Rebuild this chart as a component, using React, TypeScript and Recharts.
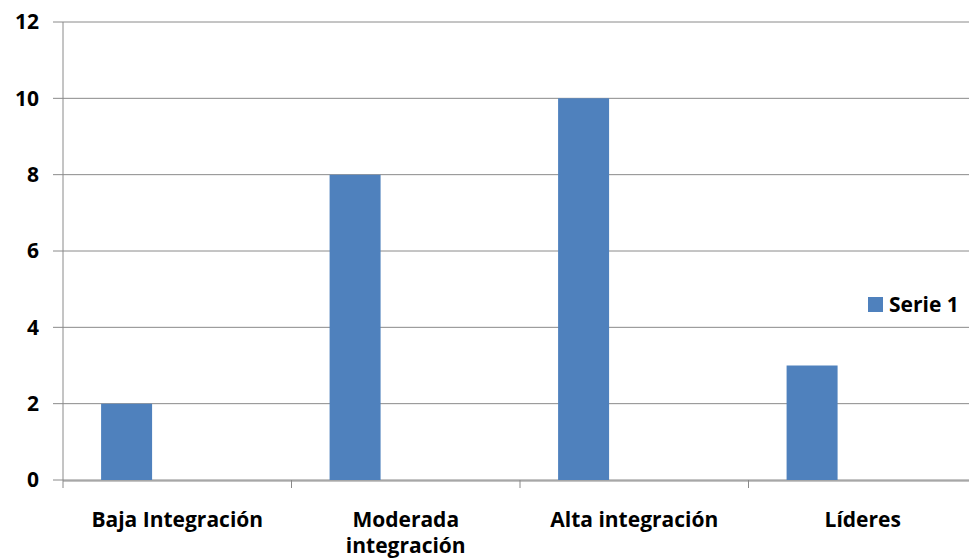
import { Bar, BarChart, CartesianGrid, XAxis, YAxis } from "recharts"

const categories = ["Baja Integración", "Moderada integración", "Alta integración", "Líderes"]
const tickLines = [["Baja Integración"], ["Moderada", "integración"], ["Alta integración"], ["Líderes"]]
const serie1 = [2, 8, 10, 3]
// Excel template had 3 series; 2 and 3 are empty but keep the slot
const serie2: (number | null)[] = [null, null, null, null]
const serie3: (number | null)[] = [null, null, null, null]
const yTicks = [0, 2, 4, 6, 8, 10, 12]
const boundaryTicks = [0, 1, 2, 3, 4]

const data = categories.map((name, i) => ({
  name,
  s1: serie1[i],
  s2: serie2[i],
  s3: serie3[i],
  pos: i + 0.5,
}))

const FONT = "'Open Sans', Lato, sans-serif"
const GRID = "#8a8a8a"

function CategoryTick(props: any) {
  const { x, y, index } = props
  const lines = tickLines[index] || []
  return (
    <text x={x} y={y} textAnchor="middle" fontFamily={FONT} fontWeight={700} fontSize={21} fill="#000">
      {lines.map((l, i) => (
        <tspan key={i} x={x} dy={i === 0 ? 38 : 26}>
          {l}
        </tspan>
      ))}
    </text>
  )
}

const EmptyTick = () => <g />

export default function App() {
  return (
    <div style={{ position: "absolute", left: 0, top: 0, width: 969, height: 558, overflow: "hidden", background: "#fff" }}>
      <BarChart
        width={977}
        height={558}
        data={data}
        margin={{ top: 22, right: 0, left: 0, bottom: 0 }}
        barCategoryGap="16.67%"
        barGap={0}
      >
        <CartesianGrid vertical={false} stroke={GRID} strokeWidth={1} xAxisId="cat" />
        <XAxis
          xAxisId="bound"
          dataKey="pos"
          type="number"
          domain={[0, 4]}
          ticks={boundaryTicks}
          interval={0}
          height={1}
          tick={EmptyTick}
          axisLine={false}
          tickLine={{ stroke: GRID }}
          tickSize={8}
          allowDataOverflow
        />
        <XAxis
          xAxisId="cat"
          dataKey="name"
          height={77}
          interval={0}
          tickLine={false}
          axisLine={{ stroke: GRID }}
          tick={<CategoryTick />}
        />
        <YAxis
          width={63}
          domain={[0, 12]}
          ticks={yTicks}
          interval={0}
          axisLine={{ stroke: GRID }}
          tickLine={{ stroke: GRID }}
          tickSize={10}
          tickMargin={14}
          tick={{ fontFamily: FONT, fontWeight: 700, fontSize: 21, fill: "#000" }}
        />
        <Bar xAxisId="cat" dataKey="s1" name="Serie 1" fill="#4f81bd" isAnimationActive={false} />
        <Bar xAxisId="cat" dataKey="s2" name="Serie 2" fill="#c0504d" isAnimationActive={false} legendType="none" />
        <Bar xAxisId="cat" dataKey="s3" name="Serie 3" fill="#9bbb59" isAnimationActive={false} legendType="none" />
      </BarChart>
      <div
        style={{
          position: "absolute",
          left: 868,
          top: 290,
          display: "flex",
          alignItems: "center",
          fontFamily: FONT,
          fontWeight: 700,
          fontSize: 21,
          color: "#000",
        }}
      >
        <span style={{ display: "inline-block", width: 15, height: 15, background: "#4f81bd", marginRight: 6 }} />
        Serie 1
      </div>
    </div>
  )
}
